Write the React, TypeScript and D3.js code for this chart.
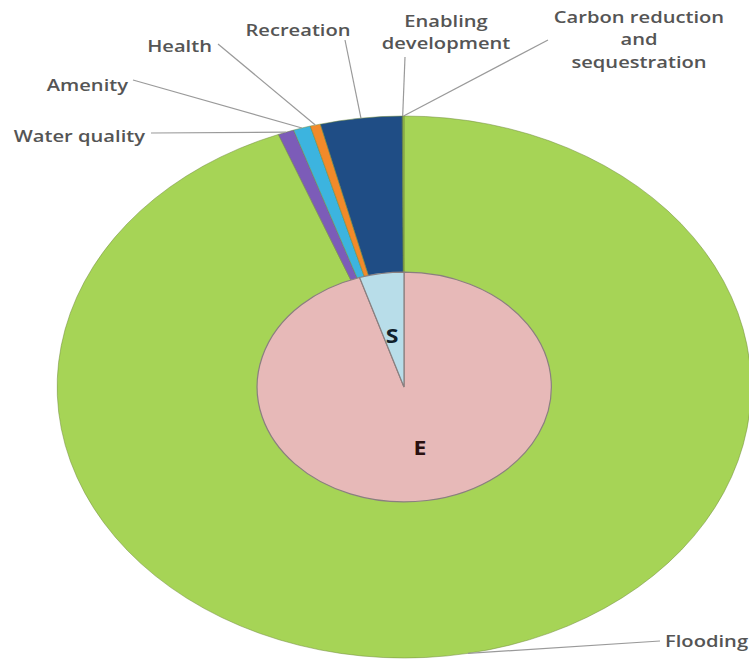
import React from 'react';
import * as d3 from 'd3';

const width = 749;
const height = 660;

// outer ring: benefit categories (percent of total)
const outerLabels = ['Flooding', 'Water quality', 'Amenity', 'Health', 'Recreation', 'Enabling development', 'Carbon reduction and sequestration'];
const outerValues = [94.1, 0.75, 0.8, 0.47, 3.8, 0.04, 0.04];
const outerColors = ['url(#greenGrad)', '#7c5cb8', '#3cb4df', '#f28a2a', '#1f4d85', '#1f4d85', '#9bcb4a'];

// inner pie: E / S split
const innerLabels = ['E', 'S'];
const innerValues = [95.1, 4.9];
const innerColors = ['#e7b9b8', '#b8dde9'];

// label text lines and anchor points for the outer categories
const labelLines: string[][] = [
  ['Flooding'],
  ['Water quality'],
  ['Amenity'],
  ['Health'],
  ['Recreation'],
  ['Enabling', 'development'],
  ['Carbon reduction', 'and', 'sequestration'],
];
const labelPos: [number, number, 'start' | 'middle' | 'end'][] = [
  [665, 647, 'start'],
  [145, 142, 'end'],
  [128, 91, 'end'],
  [212, 52, 'end'],
  [298, 36, 'middle'],
  [446, 27, 'middle'],
  [639, 23, 'middle'],
];
const leaderStart: [number, number][] = [
  [660, 641],
  [151, 133],
  [133, 80],
  [218, 44],
  [345, 40],
  [405, 57],
  [548, 40],
];
const innerLabelPos: [number, number][] = [
  [420, 455],
  [392, 343],
];

const cx = 404;
const cy = 387;
const rx = 347;
const ry = 271;
const innerFrac = 0.424;
const stretch = 1.3;

export default function App() {
  const pie = d3.pie<number>().sort(null).value((d) => d);
  const outerArcs = pie(outerValues);
  const innerArcs = pie(innerValues);
  const arcOuter = d3.arc<d3.PieArcDatum<number>>().innerRadius(0).outerRadius(1);
  const arcInner = d3.arc<d3.PieArcDatum<number>>().innerRadius(0).outerRadius(innerFrac);

  // point on the outer ellipse at slice mid-angle
  const edgePoint = (a: d3.PieArcDatum<number>): [number, number] => {
    const m = (a.startAngle + a.endAngle) / 2;
    return [cx + rx * Math.sin(m), cy - ry * Math.cos(m)];
  };

  const font = '"Open Sans", "DejaVu Sans", sans-serif';

  return (
    <svg width={width} height={height} style={{ position: 'absolute', left: 0, top: 0 }}>
      <defs>
        <linearGradient id="greenGrad" gradientUnits="userSpaceOnUse" x1="0" y1={cy - ry} x2="0" y2={cy + ry}>
          <stop offset="0" stopColor="#a6d456" />
          <stop offset="0.5" stopColor="#9acb47" />
          <stop offset="1" stopColor="#82a73b" />
        </linearGradient>
      </defs>
      <rect width={width} height={height} fill="#fff" />
      <g transform={`translate(${cx},${cy}) scale(${rx},${ry})`}>
        {outerArcs.map((a, i) => (
          <path
            key={outerLabels[i]}
            d={arcOuter(a) || ''}
            fill={outerColors[i]}
            stroke="#6f8a3c"
            strokeOpacity={0.5}
            strokeWidth={1}
            vectorEffect="non-scaling-stroke"
          />
        ))}
        {innerArcs.map((a, i) => (
          <path
            key={innerLabels[i]}
            d={arcInner(a) || ''}
            fill={innerColors[i]}
            stroke="#8a7f7f"
            strokeWidth={1.2}
            vectorEffect="non-scaling-stroke"
          />
        ))}
      </g>
      {outerArcs.map((a, i) => {
        const [ex, ey] = edgePoint(a);
        const [sx, sy] = leaderStart[i];
        return <line key={'l' + i} x1={sx} y1={sy} x2={ex} y2={ey} stroke="#9a9a9a" strokeWidth={1.2} />;
      })}
      {labelLines.map((lines, i) => (
        <text
          key={'t' + i}
          transform={`translate(${labelPos[i][0]},${labelPos[i][1]}) scale(${stretch},1)`}
          textAnchor={labelPos[i][2]}
          fontFamily={font}
          fontWeight={600}
          fontSize={15.5}
          fill="#555"
        >
          {lines.map((ln, j) => (
            <tspan key={j} x={0} dy={j === 0 ? 0 : 22.5}>
              {ln}
            </tspan>
          ))}
        </text>
      ))}
      {innerLabels.map((lb, i) => (
        <text
          key={'i' + i}
          transform={`translate(${innerLabelPos[i][0]},${innerLabelPos[i][1]}) scale(1.15,1)`}
          textAnchor="middle"
          fontFamily={font}
          fontWeight="bold"
          fontSize={20}
          fill={i === 0 ? '#2a1010' : '#10202a'}
        >
          {lb}
        </text>
      ))}
    </svg>
  );
}
